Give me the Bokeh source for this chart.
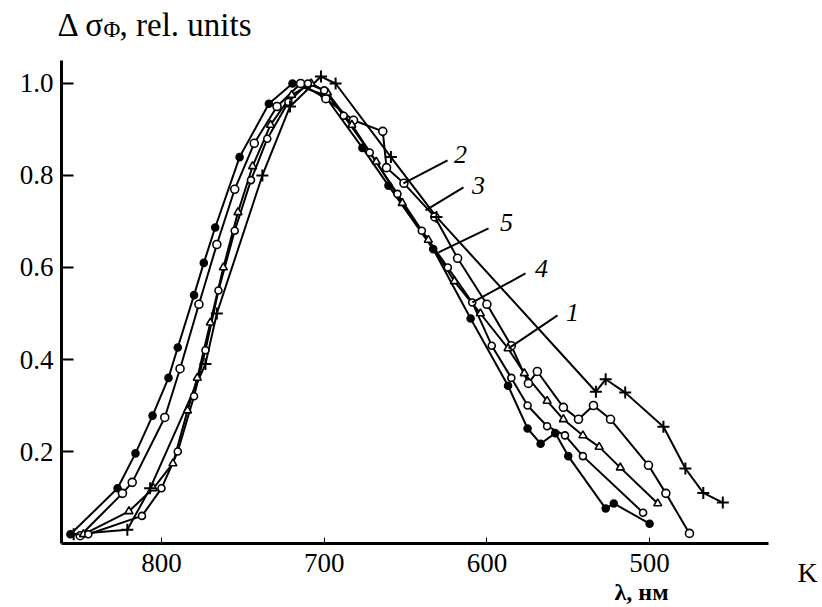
from bokeh.plotting import figure
from bokeh.models import Range1d, FixedTicker, PrintfTickFormatter, Label, ColumnDataSource
from bokeh.core.properties import value
from bokeh.embed import file_html
from bokeh.resources import INLINE

# --- photoinduced absorption spectra, normalised (wavelength in nm) ---
# curve 5: filled circles
wl_5 = [856, 827, 816, 805.5, 795.7, 790, 780, 774, 767, 752, 734, 719.5, 700, 676.5,
        660.5, 633, 610, 587, 575, 567, 558, 550, 527, 522, 500]
sig_5 = [0.02, 0.12, 0.196, 0.278, 0.36, 0.426, 0.54, 0.61, 0.687, 0.84, 0.956, 1.0, 0.975, 0.86,
         0.778, 0.64, 0.489, 0.343, 0.25, 0.217, 0.24, 0.19, 0.076, 0.087, 0.043]

# curve 2: open circles
wl_2 = [850, 824, 818, 798, 788.6, 777, 766, 755, 743, 729, 714.5, 699, 682, 664, 661.7, 651,
        632, 618, 600, 585, 574.5, 569, 553, 543.7, 534.5, 524, 500.7, 490, 475.5]
sig_2 = [0.017, 0.109, 0.133, 0.274, 0.38, 0.52, 0.65, 0.77, 0.87, 0.95, 1.0, 0.967, 0.92, 0.896, 0.817, 0.783,
         0.71, 0.62, 0.52, 0.43, 0.348, 0.374, 0.296, 0.27, 0.30, 0.27, 0.17, 0.109, 0.022]

# curve 1: open triangles
wl_1 = [848, 820, 805, 793, 784, 778, 770, 762, 753, 744, 733, 720, 708, 698, 683, 668, 652,
        636, 620, 604, 587, 577, 563, 553, 541, 531, 518, 495]
sig_1 = [0.02, 0.07, 0.12, 0.174, 0.289, 0.36, 0.48, 0.6, 0.72, 0.82, 0.91, 0.975, 1.0, 0.98, 0.91, 0.83, 0.74,
         0.66, 0.57, 0.50, 0.424, 0.37, 0.31, 0.27, 0.235, 0.21, 0.165, 0.087]

# curve 4: small open circles
wl_4 = [845, 812, 800, 790, 780, 773, 765, 755, 745, 735, 722, 710, 700, 688, 672, 655, 640,
        624, 609, 597, 585, 575, 563, 552, 541, 504]
sig_4 = [0.02, 0.06, 0.12, 0.2, 0.32, 0.42, 0.55, 0.68, 0.79, 0.88, 0.96, 1.0, 0.985, 0.93, 0.85, 0.76, 0.68,
         0.60, 0.524, 0.43, 0.36, 0.30, 0.255, 0.235, 0.19, 0.067]

# curve 3: crosses
wl_3 = [854, 821, 807, 773, 766, 738, 721, 702, 693, 659, 631, 533, 527, 515, 491.5, 478, 467, 455]
sig_3 = [0.02, 0.03, 0.12, 0.39, 0.50, 0.80, 0.95, 1.015, 1.0, 0.84, 0.71, 0.33, 0.357, 0.328, 0.254,
         0.163, 0.11, 0.089]

# curve number labels and their leader lines
curve_names = ["1", "2", "3", "4", "5"]
leader_wl0 = [586.7, 651.3, 637.7, 608.9, 629.7]
leader_sig0 = [0.424, 0.783, 0.724, 0.524, 0.633]
leader_wl1 = [556.6, 624.2, 614.4, 576.3, 599.0]
leader_sig1 = [0.496, 0.833, 0.774, 0.587, 0.685]
name_wl = [547.4, 616.2, 605.2, 566.4, 588.0]
name_sig = [0.502, 0.846, 0.778, 0.598, 0.698]

x_ticks = [800, 700, 600, 500]
y_ticks = [0.2, 0.4, 0.6, 0.8, 1.0]

SERIF = "Liberation Serif"
W, H = 822, 607

# the frame fills the whole canvas; the axes sit at fixed data positions inside it
WL_AXIS_START, WL_AXIS_END = 861.5, 427.0
SIG_AXIS_END = 1.05

p = figure(width=W, height=H, output_backend="svg", toolbar_location=None,
           x_range=Range1d(898.96, 393.73), y_range=Range1d(-0.1391, 1.1804),
           min_border=0, min_border_left=0, min_border_right=0,
           min_border_top=0, min_border_bottom=0)
p.outline_line_color = None
p.xgrid.grid_line_color = None
p.ygrid.grid_line_color = None
p.background_fill_color = "white"
p.border_fill_color = "white"

for ax in (p.xaxis[0], p.yaxis[0]):
    ax.axis_line_width = 3
    ax.axis_line_color = "black"
    ax.major_tick_out = 0
    ax.minor_tick_line_color = None
    ax.major_label_text_font = SERIF
    ax.major_label_text_font_size = "27px"
    ax.major_label_text_color = "black"

p.xaxis.fixed_location = 0
p.xaxis.bounds = (WL_AXIS_END, WL_AXIS_START)
p.xaxis.ticker = FixedTicker(ticks=x_ticks)
p.xaxis.major_tick_in = 6
p.xaxis.major_tick_line_width = 1
p.xaxis.major_label_standoff = 10

p.yaxis.fixed_location = WL_AXIS_START
p.yaxis.bounds = (0, SIG_AXIS_END)
p.yaxis.ticker = FixedTicker(ticks=y_ticks)
p.yaxis.formatter = PrintfTickFormatter(format="%.1f")
p.yaxis.major_tick_in = 12
p.yaxis.major_tick_line_width = 2
p.yaxis.major_label_standoff = 8

series = [
    (wl_5, sig_5, "circle", 7, "black"),
    (wl_2, sig_2, "circle", 8, "white"),
    (wl_1, sig_1, "triangle", 8, "white"),
    (wl_4, sig_4, "circle", 7, "white"),
    (wl_3, sig_3, "cross", 12, None),
]

for wl, sig, *_ in series:
    p.line(wl, sig, line_color="black", line_width=2)

for wl, sig, marker, size, fill in series:
    src = ColumnDataSource(data=dict(x=wl, y=sig))
    if marker == "cross":
        p.scatter("x", "y", source=src, marker="cross", size=size,
                  line_color="black", line_width=2)
    else:
        p.scatter("x", "y", source=src, marker=marker, size=size,
                  fill_color=fill, line_color="black", line_width=1.6)

p.segment(x0=leader_wl0, y0=leader_sig0, x1=leader_wl1, y1=leader_sig1,
          line_color="black", line_width=2)
p.text(x=name_wl, y=name_sig, text=curve_names, text_font=value(SERIF),
       text_font_style="italic", text_font_size="26px", text_align="center",
       text_baseline="middle", text_color="black")

# axis titles, placed in canvas pixels (origin bottom-left)
def caption(x, y, text, size, style="normal", align="left"):
    p.add_layout(Label(x=x, y=H - y, x_units="screen", y_units="screen", text=text,
                       text_font=SERIF, text_font_size=size, text_font_style=style,
                       text_align=align, text_baseline="middle", text_color="black"))

caption(57, 24, "Δ σ", "33px")
caption(103, 29, "Φ", "23px")
caption(119, 24, ", rel. units", "33px")
caption(641, 591, "λ, нм", "24px", style="bold", align="center")
caption(807, 572, "K", "28px", align="center")

open("out.html", "w").write(file_html(p, INLINE))
